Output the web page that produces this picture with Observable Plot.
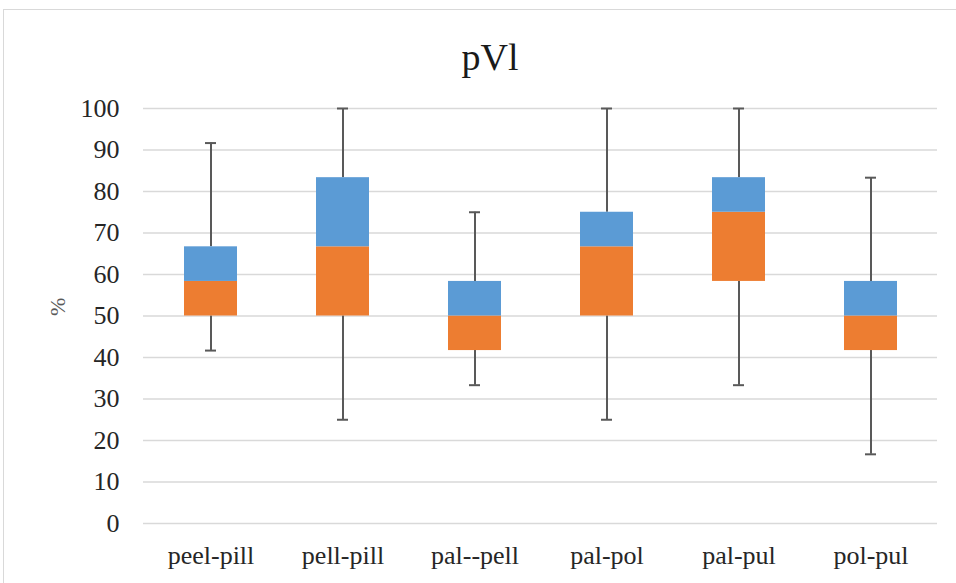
<!DOCTYPE html>
<html>
<head>
<meta charset="utf-8">
<script src="https://cdn.jsdelivr.net/npm/d3@7"></script>
<script src="https://cdn.jsdelivr.net/npm/@observablehq/plot@0.6"></script>
<style>
  html, body { margin: 0; padding: 0; background: #fff; }
  #chart { position: relative; width: 956px; height: 583px; overflow: hidden; font-family: "Liberation Serif", serif; }
  #frame { position: absolute; left: 3px; top: 9px; width: 1000px; height: 700px; border: 1.5px solid #d9d9d9; box-sizing: border-box; }
  #title { position: absolute; left: 0; width: 980px; top: 38px; text-align: center; font-size: 38px; color: #1a1a1a; line-height: 1; }
  #plot { position: absolute; left: 0; top: 0; }
</style>
</head>
<body>
<div id="chart">
  <div id="frame"></div>
  <div id="title">pVl</div>
  <div id="plot"></div>
</div>
<script>
// Box-plot summary per pair (percent)
const categories = ["peel-pill", "pell-pill", "pal--pell", "pal-pol", "pal-pul", "pol-pul"];
const minimum = [41.67, 25, 33.33, 25, 33.33, 16.67];
const q1      = [50, 50, 41.67, 50, 58.33, 41.67];
const median  = [58.33, 66.67, 50, 66.67, 75, 50];
const q3      = [66.67, 83.33, 58.33, 75, 83.33, 58.33];
const maximum = [91.67, 100, 75, 100, 100, 83.33];
const yTicks  = [0, 10, 20, 30, 40, 50, 60, 70, 80, 90, 100];

const rows = categories.map((c, i) => ({
  cat: c, min: minimum[i], q1: q1[i], med: median[i], q3: q3[i], max: maximum[i]
}));

const whisker = "#595959";
const serif = "Liberation Serif";

const chart = Plot.plot({
  width: 956,
  height: 583,
  marginLeft: 143,
  marginRight: 19,
  marginTop: 108,
  marginBottom: 60,
  style: { fontFamily: serif, fontSize: "26px", color: "#262626", background: "transparent", overflow: "visible" },
  x: { domain: categories, paddingInner: 0.6, paddingOuter: 0.3, label: null },
  y: { domain: [0, 100], label: null },
  marks: [
    Plot.ruleY(yTicks, { stroke: "#d9d9d9", strokeWidth: 1.5 }),
    // whiskers
    Plot.ruleX(rows, { x: "cat", y1: "min", y2: "q1", stroke: whisker, strokeWidth: 2 }),
    Plot.ruleX(rows, { x: "cat", y1: "q3", y2: "max", stroke: whisker, strokeWidth: 2 }),
    Plot.tickY(rows, { x: "cat", y: "min", stroke: whisker, strokeWidth: 2, insetLeft: 21, insetRight: 21 }),
    Plot.tickY(rows, { x: "cat", y: "max", stroke: whisker, strokeWidth: 2, insetLeft: 21, insetRight: 21 }),
    // boxes: lower half orange, upper half blue
    Plot.barY(rows, { x: "cat", y1: "q1", y2: "med", fill: "#ED7D31" }),
    Plot.barY(rows, { x: "cat", y1: "med", y2: "q3", fill: "#5B9BD5" }),
    Plot.axisY({ ticks: yTicks, tickSize: 0, tickPadding: 24, label: null, fontFamily: serif, fontSize: 26 }),
    Plot.axisX({ tickSize: 0, tickPadding: 22, label: null, fontFamily: serif, fontSize: 26 }),
    // axis title
    Plot.text(["%"], { frameAnchor: "left", dx: -86, rotate: -90, fontSize: 22, fill: "#595959", fontFamily: serif })
  ]
});

d3.select(chart).selectAll("text").style("font-family", "'Liberation Serif', serif");
document.getElementById("plot").appendChild(chart);
</script>
</body>
</html>
